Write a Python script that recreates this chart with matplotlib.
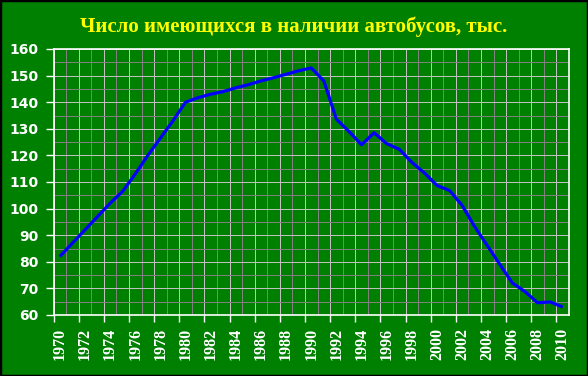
import numpy as np
import matplotlib.pyplot as plt
from matplotlib.patches import Rectangle

# Число автобусов, тыс.
years = list(range(1970, 2011))
buses = [82, 87, 92, 97, 102, 106.5, 113, 120, 126.5, 133,
         140, 141.7, 143, 144, 145.4, 146.6, 148, 149.2, 150.5, 151.8,
         152.9, 148, 133.6, 129, 124, 128.5, 124.4, 122.3, 117.4, 113.4,
         108.7, 106.8, 101.2, 93.2, 86.1, 79, 72, 68.8, 64.6, 64.9,
         63]
title = 'Число имеющихся в наличии автобусов, тыс.'

GREEN = '#008000'
LIGHT = '#c0c0c0'
GRAY = '#808080'

fig = plt.figure(figsize=(5.88, 3.76), dpi=100, facecolor=GREEN)
ax = fig.add_axes([53.5 / 588, 1 - 315 / 376, (569 - 53.5) / 588, (315 - 49) / 376])
ax.set_facecolor(GREEN)
ax.set_axisbelow(True)

idx = np.arange(len(years))
ax.plot(idx, buses, color='#0000ff', lw=2.3, solid_joinstyle='round',
        solid_capstyle='butt', zorder=3)

ax.set_xlim(-0.5, len(years) - 0.5)
ax.set_ylim(60, 160)

# x: границы категорий - светлые (с засечками) и серые линии сетки
ax.set_xticks(np.arange(-0.5, len(years), 2))
ax.set_xticks(np.arange(0.5, len(years), 2), minor=True)
ax.tick_params(axis='x', which='major', length=5, width=1, color='white',
               labelbottom=False)
ax.tick_params(axis='x', which='minor', length=0)
ax.grid(True, axis='x', which='major', color=LIGHT, lw=0.6, antialiased=False)
ax.grid(True, axis='x', which='minor', color=GRAY, lw=0.6, antialiased=False)

# подписи лет по центру категорий
sec = ax.secondary_xaxis('bottom')
sec.set_xticks(idx[::2])
sec.set_xticklabels([str(y) for y in years[::2]])
sec.tick_params(length=0, pad=9, labelsize=11.5, labelcolor='white',
                labelrotation=90)
sec.spines['bottom'].set_visible(False)
plt.setp(sec.get_xticklabels(), family='Liberation Serif', fontweight='bold',
         fontsize=11.5)

# y
ax.set_yticks(np.arange(60, 161, 10))
ax.set_yticks(np.arange(65, 160, 10), minor=True)
ax.tick_params(axis='y', which='major', length=6, width=1, color='white',
               labelcolor='white', labelsize=10, pad=5)
ax.tick_params(axis='y', which='minor', length=0)
for lab in ax.get_yticklabels():
    lab.set_fontweight('bold')
ax.grid(True, axis='y', which='major', color=LIGHT, lw=0.6, antialiased=False)
ax.grid(True, axis='y', which='minor', color=GRAY, lw=0.6, antialiased=False)

for s in ax.spines.values():
    s.set_color('white')
    s.set_linewidth(1.2)

fig.text(0.5, 1 - 27 / 376, title, ha='center', va='center',
         family='Liberation Serif', fontweight='bold', fontsize=15,
         color='#ffff00')

fig.patches.append(Rectangle((0, 0), 1, 1, transform=fig.transFigure,
                             fill=False, edgecolor='black', lw=2.5))

fig.savefig('out.png', dpi=100, facecolor=fig.get_facecolor())
